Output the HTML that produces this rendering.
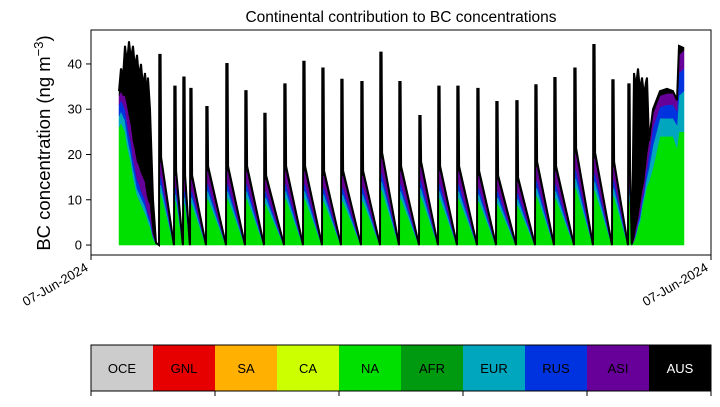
<!DOCTYPE html>
<html><head><meta charset="utf-8">
<style>
html,body{margin:0;padding:0;background:#fff;}
body{width:720px;height:402px;overflow:hidden;font-family:"Liberation Sans","DejaVu Sans",sans-serif;}
</style></head>
<body>
<svg id="chart" width="720" height="402" xmlns="http://www.w3.org/2000/svg" font-family="Liberation Sans, DejaVu Sans, sans-serif">
<text x="401" y="22" text-anchor="middle" font-size="15.5">Continental contribution to BC concentrations</text>
<g id="plot"></g>
<rect x="91" y="30" width="620" height="225" fill="none" stroke="#000" stroke-width="1"/>
<g id="yaxis"></g>
<text transform="translate(50,143) rotate(-90)" text-anchor="middle" font-size="18.5">BC concentration (ng m<tspan dy="-7" font-size="13">−3</tspan><tspan dy="7">)</tspan></text>
<g>
<line x1="91" y1="255" x2="91" y2="260" stroke="#000"/>
<line x1="711" y1="255" x2="711" y2="260" stroke="#000"/>
<text transform="translate(89,270) rotate(-30)" text-anchor="end" font-size="13">07-Jun-2024</text>
<text transform="translate(709,270) rotate(-30)" text-anchor="end" font-size="13">07-Jun-2024</text>
</g>
<g id="cbar"></g>
</svg>
<script>
// ---- data ----
var regionNames = ["OCE","GNL","SA","CA","NA","AFR","EUR","RUS","ASI","AUS"];
var regionColors = ["#cccccc","#e60000","#ffb000","#ccff00","#00e000","#009a10","#00a6bd","#0033e0","#660099","#000000"];
var yTicks = [0,10,20,30,40];
// early messy period: time, NA, EUR, RUS, ASI, total
var earlyT = [28,30,32,34,36,38,40,42,44,46,48,50,52,54,56,57,59,62,65];
var earlyNA = [26,27,26,25,22,20,18,15,13,11,10,9,8,7,6,5,4,1.5,0.2];
var earlyEUR = [2.5,2.5,2.5,2.5,2.5,2,2,2,2,1.5,1.5,1.5,1.5,1.5,1,1,1,0.3,0];
var earlyRUS = [2.5,2.5,2.5,2.5,2.5,2.5,2.5,2,2,2,2,1.5,1.5,1.5,1,1,1,0.3,0];
var earlyASI = [2,2,2,3,4,4,4,4,4,4,4,4,4,4,3,3,3,0.6,0.1];
var earlyTotal = [34,39,37,44,40,45,41,44,39,42,37,40,35,38,33,37,30,10,0.5];
// sawtooth cycles: spike time, spike peak, value right after spike
var cycleT = [68,83,92,99,115,135,154,173,193,212,231,250,270,289,308,328,347,366,386,405,425,444,463,483,502,521,537];
var cyclePeak = [42,35,37,34.5,30.5,40,34,29,35.5,40.5,39,36.5,36,42.5,36,28.5,35,35,34.5,31.6,31.8,35.3,36.9,39,44.2,36.4,35.5];
var cycleStart = [19,16,15,15,17,17,17,15,17,17,16,16,16,20,17,18,17,17,16,15,14.5,18,17,21,20,18,16];
var cycleFrac = [0.60,0.10,0.09,0.17,0.04];
var cycleEnd = 541;
// late period
var lateT = [541,543,545,547,549,551,553,555,556,558,562,569,576,582,586,588,593];
var lateNA = [0,1,2,4,5,8,10,12,13,14,17,24,24,24,21.5,25,25];
var lateEUR = [0,0,0.5,0.5,1,1,1,2,2,3,5,4,4,4,5,8,9];
var lateRUS = [0,0,0.5,0.5,1,1,1,2,2,3,4,2.5,3,3,3,5,5];
var lateASI = [0,0.5,1,1,2,2,2,2,3,3,3,2.5,2.5,2.5,2.5,4,4];
var lateTotal = [0.5,38,35,39,34,37,33,36,37,20,30,34,34.5,34,31,44,43.5];

// ---- scales ----
var X0=91,X1=711,Y0=255,Y1=30,TMAX=620,VMIN=-2.2,VMAX=47.5;
function xs(t){return X0+t/TMAX*(X1-X0);}
function ys(v){return Y0-(v-VMIN)/(VMAX-VMIN)*(Y0-Y1);}

var T=[],L=[[],[],[],[],[]];
function push(t,na,eu,ru,as,au){T.push(t);L[0].push(na);L[1].push(eu);L[2].push(ru);L[3].push(as);L[4].push(Math.max(0,au));}
for(var i=0;i<earlyT.length;i++){
  push(earlyT[i],earlyNA[i],earlyEUR[i],earlyRUS[i],earlyASI[i],earlyTotal[i]-earlyNA[i]-earlyEUR[i]-earlyRUS[i]-earlyASI[i]);
}
for(var c=0;c<cycleT.length;c++){
  var s=cycleStart[c],f=cycleFrac,t0=cycleT[c];
  var base=s*(f[0]+f[1]+f[2]+f[3]);
  push(t0,0,0,0,0,0);
  push(t0+0.3,s*f[0],s*f[1],s*f[2],s*f[3],cyclePeak[c]-base);
  push(t0+1.6,s*f[0],s*f[1],s*f[2],s*f[3],cyclePeak[c]-base);
  push(t0+2.1,s*f[0],s*f[1],s*f[2],s*f[3],s*f[4]+0.4);
  var nxt=(c+1<cycleT.length)?cycleT[c+1]:cycleEnd;
  push(nxt-0.3,0,0,0,0,0.3);
}
for(var j=0;j<lateT.length;j++){
  push(lateT[j],lateNA[j],lateEUR[j],lateRUS[j],lateASI[j],lateTotal[j]-lateNA[j]-lateEUR[j]-lateRUS[j]-lateASI[j]);
}
var plot=document.getElementById('plot');
var NS="http://www.w3.org/2000/svg";
var layerColors=[regionColors[4],regionColors[6],regionColors[7],regionColors[8],regionColors[9]];
var layerNames=["na","eur","rus","asi","aus"];
var cum=T.map(function(){return 0;});
for(var k=0;k<5;k++){
  var lower=cum.slice();
  for(var m=0;m<T.length;m++)cum[m]+=L[k][m];
  var pts=[];
  for(m=0;m<T.length;m++)pts.push(xs(T[m]).toFixed(2)+","+ys(cum[m]).toFixed(2));
  for(m=T.length-1;m>=0;m--)pts.push(xs(T[m]).toFixed(2)+","+ys(lower[m]).toFixed(2));
  var pg=document.createElementNS(NS,'polygon');
  pg.setAttribute('points',pts.join(' '));
  pg.setAttribute('fill',layerColors[k]);
  pg.setAttribute('stroke',layerColors[k]);
  pg.setAttribute('stroke-width','0.5');
  
  
  plot.appendChild(pg);
}
var topPts=[];
for(var m2=0;m2<T.length;m2++)topPts.push(xs(T[m2]).toFixed(2)+","+ys(cum[m2]).toFixed(2));
var pl=document.createElementNS(NS,'polyline');
pl.setAttribute('points',topPts.join(' '));
pl.setAttribute('fill','none');pl.setAttribute('stroke','#000');pl.setAttribute('stroke-width','2');


plot.appendChild(pl);
// y ticks
var ya=document.getElementById('yaxis');
yTicks.forEach(function(v){
  var y=ys(v);
  var ln=document.createElementNS(NS,'line');
  ln.setAttribute('x1',86);ln.setAttribute('x2',91);ln.setAttribute('y1',y);ln.setAttribute('y2',y);ln.setAttribute('stroke','#000');
  
  
  ya.appendChild(ln);
  var tx=document.createElementNS(NS,'text');
  tx.setAttribute('x',82);tx.setAttribute('y',y+4.5);tx.setAttribute('text-anchor','end');tx.setAttribute('font-size','13');
  tx.textContent=v;
  
  
  ya.appendChild(tx);
});
// colorbar
var cb=document.getElementById('cbar');
var cw=62;
regionNames.forEach(function(n,i){
  var r=document.createElementNS(NS,'rect');
  r.setAttribute('x',91+i*cw);r.setAttribute('y',345);r.setAttribute('width',cw);r.setAttribute('height',46);
  r.setAttribute('fill',regionColors[i]);
  
  
  cb.appendChild(r);
  var tt=document.createElementNS(NS,'text');
  tt.setAttribute('x',91+i*cw+cw/2);tt.setAttribute('y',373);tt.setAttribute('text-anchor','middle');tt.setAttribute('font-size','13');
  tt.setAttribute('fill',i==9?'#fff':'#000');
  tt.textContent=n;
  
  
  cb.appendChild(tt);
});
var fr=document.createElementNS(NS,'rect');
fr.setAttribute('x',91);fr.setAttribute('y',345);fr.setAttribute('width',620);fr.setAttribute('height',46);
fr.setAttribute('fill','none');fr.setAttribute('stroke','#000');


cb.appendChild(fr);
for(var q=0;q<=5;q++){
  var tl=document.createElementNS(NS,'line');
  var xx=91+q*124;
  tl.setAttribute('x1',xx);tl.setAttribute('x2',xx);tl.setAttribute('y1',391);tl.setAttribute('y2',396);tl.setAttribute('stroke','#000');
  
  
  cb.appendChild(tl);
}
</script>
</body></html>
